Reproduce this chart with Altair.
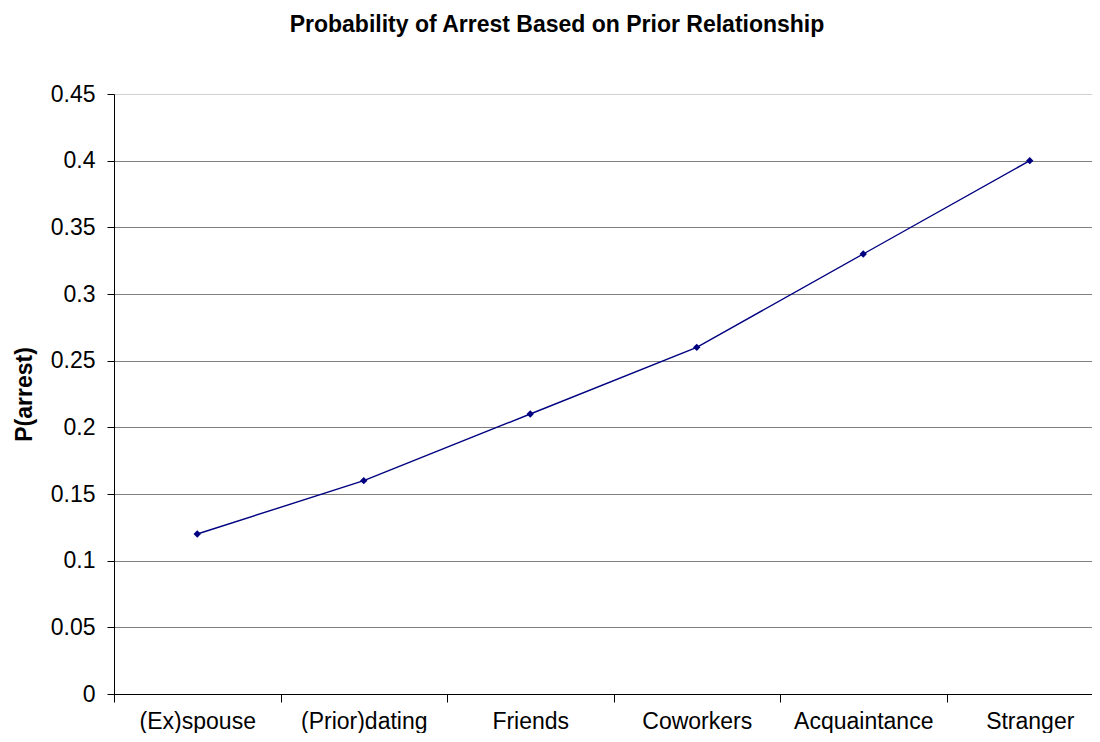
import altair as alt
import pandas as pd

categories = ["(Ex)spouse", "(Prior)dating", "Friends", "Coworkers", "Acquaintance", "Stranger"]
p_arrest = [0.12, 0.16, 0.21, 0.26, 0.33, 0.40]
y_ticks = [0, 0.05, 0.1, 0.15, 0.2, 0.25, 0.3, 0.35, 0.4, 0.45]

df = pd.DataFrame({"rel": categories, "p": p_arrest})

FONT = "Liberation Sans"

x = alt.X(
    "rel:N",
    sort=categories,
    title=None,
    scale=alt.Scale(type="band", paddingInner=0, paddingOuter=0, range=[0, 999]),
    axis=alt.Axis(
        tickBand="extent",
        labelAngle=0,
        labelFont=FONT,
        labelFontSize=23,
        labelColor="black",
        labelBaseline="alphabetic",
        labelPadding=26,
        tickColor="black",
        tickSize=8,
        domainColor="black",
        grid=False,
    ),
)
y = alt.Y(
    "p:Q",
    title="P(arrest)",
    scale=alt.Scale(domain=[0, 0.45], nice=False, zero=True),
    axis=alt.Axis(
        values=y_ticks,
        format="~g",
        labelFont=FONT,
        labelFontSize=23,
        labelColor="black",
        labelPadding=12,
        tickColor="black",
        tickSize=7,
        domainColor="black",
        grid=True,
        gridColor={"condition": {"test": "datum.value >= 0.449", "value": "#d0d0d0"}, "value": "#808080"},
        gridWidth=1,
        titleFont=FONT,
        titleFontSize=23,
        titleFontWeight="bold",
        titleColor="black",
        titlePadding=14,
    ),
)

line = alt.Chart(df).mark_line(color="#000080", strokeWidth=1.4).encode(x=x, y=y)
pts = alt.Chart(df).mark_point(shape="diamond", filled=True, color="#000080", size=55, opacity=1).encode(x=x, y=y)

chart = (
    alt.layer(line, pts)
    .properties(
        width=978,
        height=600,
        autosize=alt.AutoSizeParams(type="none"),
        padding={"left": 106, "top": 86, "right": 0, "bottom": 39},
        title=alt.TitleParams(
            "Probability of Arrest Based on Prior Relationship",
            font=FONT,
            fontSize=23,
            fontWeight="bold",
            color="black",
            anchor="middle",
            baseline="alphabetic",
            offset=28,
            dx=-46,
        ),
    )
    .configure_view(stroke=None)
    .configure(background="white")
)

chart.save("out.html", embed_options={"renderer": "svg", "actions": False})
